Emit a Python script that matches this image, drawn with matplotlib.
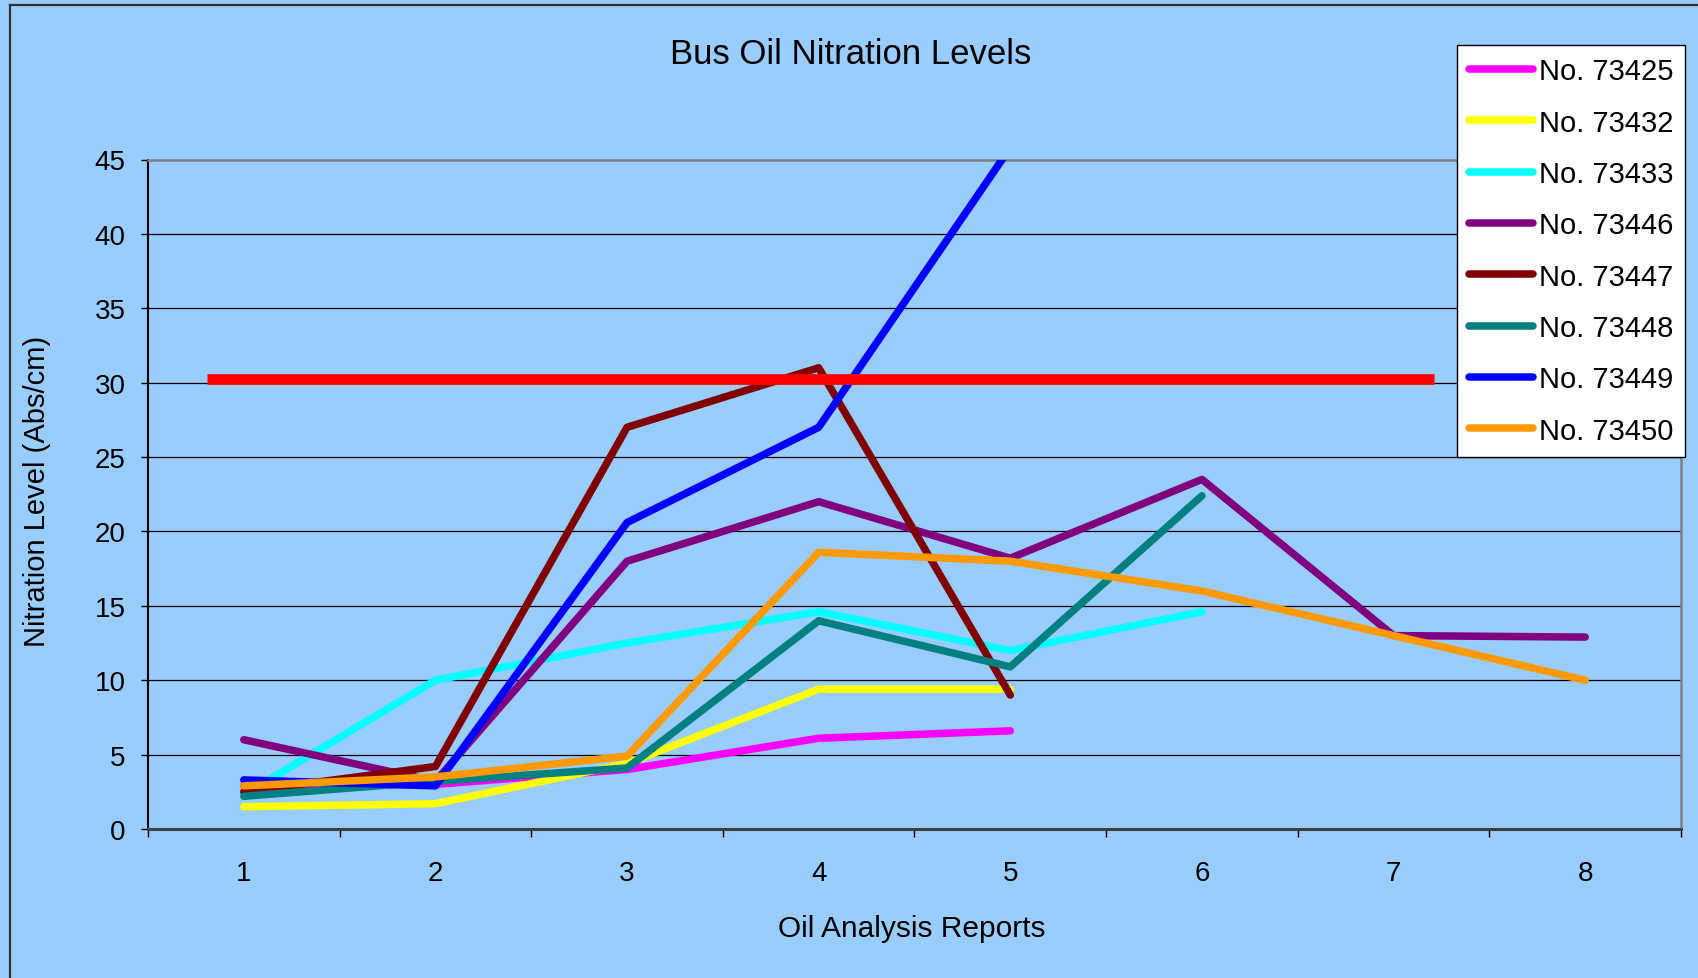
import matplotlib
matplotlib.use("Agg")
import matplotlib.pyplot as plt
from matplotlib.lines import Line2D

plt.rcParams['font.family'] = ['Liberation Sans', 'DejaVu Sans']

# data
reports = [1, 2, 3, 4, 5, 6, 7, 8]
report_labels = ['1', '2', '3', '4', '5', '6', '7', '8']

bus_ids = ['No. 73425', 'No. 73432', 'No. 73433', 'No. 73446',
           'No. 73447', 'No. 73448', 'No. 73449', 'No. 73450']
bus_colors = ['#FF00FF', '#FFFF00', '#00FFFF', '#800080',
              '#800000', '#008080', '#0000FF', '#FF9900']

no_73425 = [2.9, 3.0, 4.0, 6.1, 6.6]
no_73432 = [1.5, 1.7, 4.4, 9.4, 9.4]
no_73433 = [2.3, 10.0, 12.5, 14.6, 12.0, 14.6]
no_73446 = [6.0, 3.2, 18.0, 22.0, 18.2, 23.5, 13.0, 12.9]
no_73447 = [2.5, 4.2, 27.0, 31.0, 9.0]
no_73448 = [2.2, 3.2, 4.1, 14.0, 10.9, 22.4]
no_73449 = [3.3, 2.9, 20.6, 27.0, 45.8]
no_73450 = [2.9, 3.5, 4.9, 18.6, 18.0, 16.0, 13.0, 10.0]

series = [no_73425, no_73432, no_73433, no_73446,
          no_73447, no_73448, no_73449, no_73450]

# limit line drawn across the plot
limit_level = 30.25
limit_span = [0.81, 7.21]

yticks = [0, 5, 10, 15, 20, 25, 30, 35, 40, 45]

W, H = 1698, 979
bg = '#99CCFF'

fig = plt.figure(figsize=(W / 100, H / 100), dpi=100, facecolor=bg)
ax = fig.add_axes([148 / W, 1 - 830 / H, (1681 - 148) / W, (830 - 160.5) / H])
ax.set_facecolor(bg)

for vals, name, col in zip(series, bus_ids, bus_colors):
    ax.plot(reports[:len(vals)], vals, color=col, lw=5.4, label=name,
            solid_capstyle='round', solid_joinstyle='round', zorder=3)

ax.plot(limit_span, [limit_level, limit_level], color='#FF0000', lw=7.7,
        solid_capstyle='butt', zorder=4)

ax.set_xlim(0.5, 8.5)
ax.set_ylim(0, 45)

ax.set_yticks(yticks)
ax.set_yticklabels([str(v) for v in yticks])
ax.set_xticks(reports)
ax.set_xticklabels(report_labels)
ax.set_xticks([r + 0.5 for r in [0] + reports], minor=True)

ax.tick_params(axis='y', direction='out', length=5, width=1, pad=11,
               labelsize=20, color='black')
ax.tick_params(axis='x', which='major', length=0, pad=22, labelsize=20)
ax.tick_params(axis='x', which='minor', direction='out', length=6, width=1,
               color='black')

ax.grid(axis='y', color='black', lw=0.9, zorder=1)
ax.set_axisbelow(True)

ax.spines['left'].set_color('black')
ax.spines['left'].set_linewidth(1.5)
ax.spines['bottom'].set_color('#404040')
ax.spines['bottom'].set_linewidth(2.2)
ax.spines['top'].set_color('#808080')
ax.spines['top'].set_linewidth(1.8)
ax.spines['right'].set_color('#808080')
ax.spines['right'].set_linewidth(1.8)

ax.set_ylabel('Nitration Level (Abs/cm)', fontsize=21)
ax.yaxis.set_label_coords(-0.063, 0.505)
ax.set_xlabel('Oil Analysis Reports', fontsize=21.5)
ax.xaxis.set_label_coords(0.498, -0.127)

fig.text(851 / W, 1 - 55 / H, 'Bus Oil Nitration Levels', fontsize=25,
         ha='center', va='center')

leg = ax.legend(loc='upper left', bbox_to_anchor=(1457 / W, 1 - 46 / H),
                bbox_transform=fig.transFigure, borderaxespad=0,
                fontsize=21, handlelength=2.2, handletextpad=0.18,
                borderpad=0.42, labelspacing=0.8, fancybox=False,
                framealpha=1, facecolor='white', edgecolor='black')
leg.get_frame().set_linewidth(1.0)
leg.set_zorder(5)

# outer chart border (left and top edges visible)
fig.add_artist(Line2D([10 / W, 10 / W], [0, 1 - 6 / H], color='#303030',
                      lw=1.6, transform=fig.transFigure))
fig.add_artist(Line2D([10 / W, 1], [1 - 6 / H, 1 - 6 / H], color='#303030',
                      lw=1.6, transform=fig.transFigure))

fig.savefig('out.png', dpi=100, facecolor=bg)
